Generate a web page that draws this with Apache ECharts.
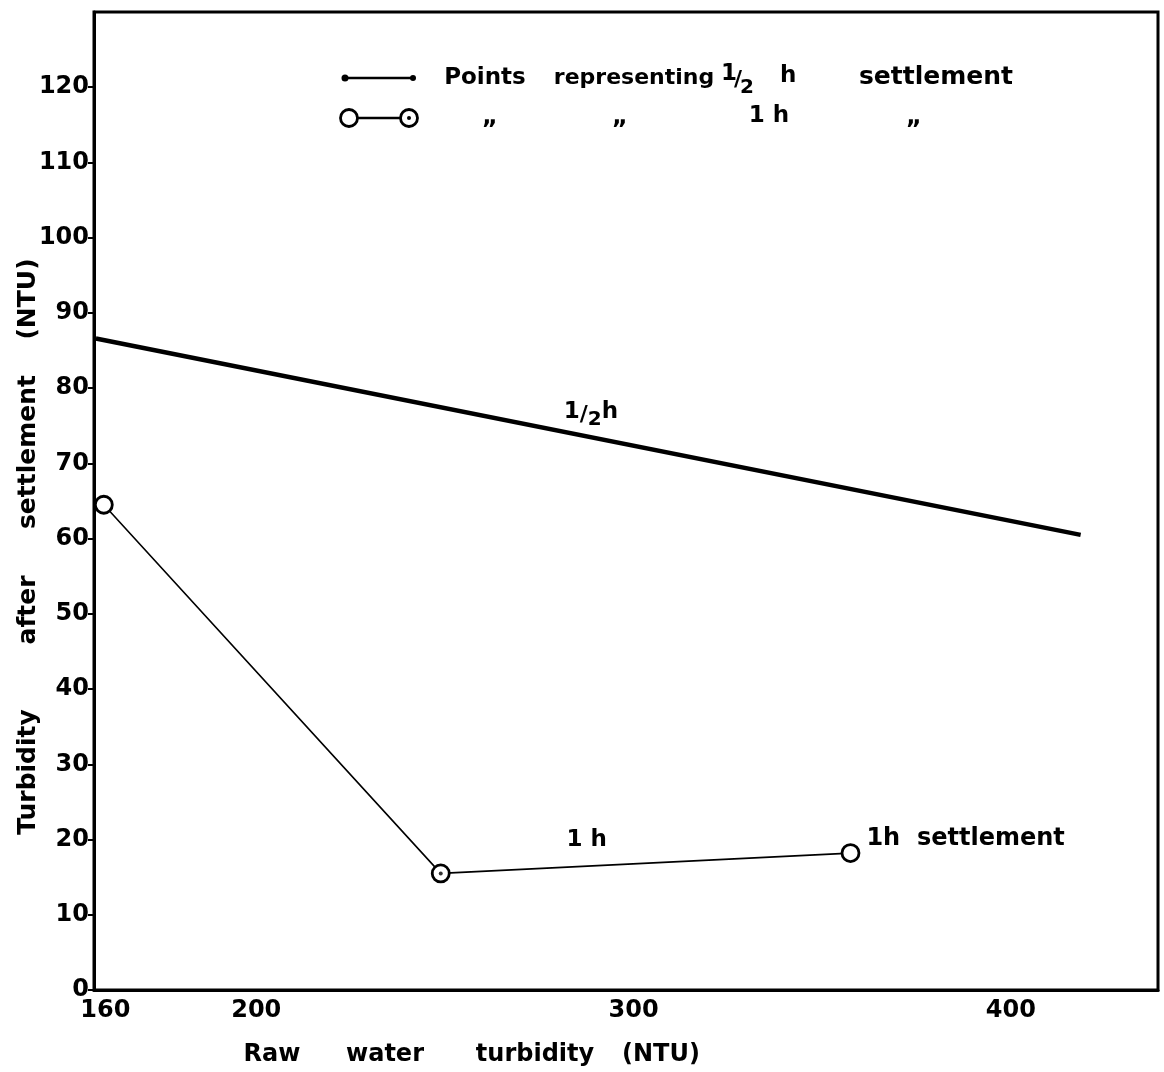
<!DOCTYPE html>
<html><head><meta charset="utf-8">
<script src="https://cdn.jsdelivr.net/npm/echarts@6/dist/echarts.min.js"></script>
<style>html,body{margin:0;padding:0;background:#fff}#c{width:1164px;height:1072px}</style>
</head><body><div id="c"></div>
<script>
// ---- data ----
const halfHourX = [157.5, 418.5];
const halfHourY = [86.6, 60.5];
const oneHourX = [159.6, 248.9, 357.5];
const oneHourY = [64.5, 15.5, 18.2];
const xTickLabels = [160, 200, 300, 400];
const yTickLabels = [0, 10, 20, 30, 40, 50, 60, 70, 80, 90, 100, 110, 120];
// annotation anchors (data space)
const halfLabelAt = [288.7, 76.4];
const oneLabelAt = [287.6, 20];

const FONT = '"DejaVu Sans", sans-serif';
const halfData = halfHourX.map((x, i) => [x, halfHourY[i]]);
const oneData = oneHourX.map((x, i) => {
  const d = { value: [x, oneHourY[i]] };
  if (i === 2) {
    d.label = {
      show: true, position: 'right', distance: 6, offset: [0, -14],
      formatter: '1h  settlement', color: '#000',
      fontFamily: FONT, fontWeight: 'bold', fontSize: 24
    };
  }
  return d;
});

const chart = echarts.init(document.getElementById('c'), null, { renderer: 'canvas' });

function txt(text, x, y, size, align, extra) {
  return Object.assign({
    type: 'text', x: x, y: y, z: 100,
    style: { text: text, fill: '#000', font: 'bold ' + size + 'px ' + FONT,
      textAlign: align || 'left', textVerticalAlign: 'middle' }
  }, extra || {});
}

const graphics = [
  // legend row 1
  { type: 'line', shape: { x1: 345, y1: 78, x2: 413, y2: 78 }, style: { stroke: '#000', lineWidth: 2.5 }, z: 100 },
  { type: 'circle', shape: { cx: 345, cy: 78, r: 3.5 }, style: { fill: '#000' }, z: 100 },
  { type: 'circle', shape: { cx: 413, cy: 78, r: 3 }, style: { fill: '#000' }, z: 100 },
  txt('Points', 485, 78, 23, 'center'),
  txt('representing', 634, 78, 22, 'center'),
  txt('1', 721, 74, 23),
  txt('/', 734, 80, 22),
  txt('2', 740, 88, 20),
  txt('h', 780, 76, 23),
  txt('settlement', 936, 77, 25, 'center'),
  // legend row 2
  { type: 'line', shape: { x1: 358, y1: 118, x2: 400, y2: 118 }, style: { stroke: '#000', lineWidth: 2.5 }, z: 100 },
  { type: 'circle', shape: { cx: 349, cy: 118, r: 8.5 }, style: { fill: '#fff', stroke: '#000', lineWidth: 2.8 }, z: 100 },
  { type: 'circle', shape: { cx: 409, cy: 118, r: 8.5 }, style: { fill: '#fff', stroke: '#000', lineWidth: 2.8 }, z: 100 },
  { type: 'circle', shape: { cx: 409, cy: 118, r: 2 }, style: { fill: '#000' }, z: 101 },
  txt('\u201E', 490, 118, 24, 'center'),
  txt('\u201E', 620, 118, 24, 'center'),
  txt('1 h', 769, 116, 23, 'center'),
  txt('\u201E', 914, 118, 24, 'center'),
  // y axis title, word by word
  txt('Turbidity', 28, 772, 25, 'center', { rotation: Math.PI / 2 }),
  txt('after', 28, 610, 25, 'center', { rotation: Math.PI / 2 }),
  txt('settlement', 28, 452, 25, 'center', { rotation: Math.PI / 2 }),
  txt('(NTU)', 28, 299, 25, 'center', { rotation: Math.PI / 2 }),
  // x axis title
  txt('Raw', 272, 1055, 24, 'center'),
  txt('water', 385, 1055, 24, 'center'),
  txt('turbidity', 535, 1055, 24, 'center'),
  txt('(NTU)', 661, 1055, 24, 'center')
];

chart.setOption({
  animation: false,
  backgroundColor: '#fff',
  grid: { left: 94, right: 6, top: 12, bottom: 82, show: true, borderColor: '#000', borderWidth: 3, containLabel: false },
  xAxis: {
    type: 'value', min: 157, max: 439,
    axisLine: { lineStyle: { color: '#000', width: 3 } },
    axisTick: { show: false },
    splitLine: { show: false },
    axisLabel: { customValues: xTickLabels, color: '#000', fontFamily: FONT, fontWeight: 'bold', fontSize: 24, margin: 9 }
  },
  yAxis: {
    type: 'value', min: 0, max: 130,
    axisLine: { show: true, lineStyle: { color: '#000', width: 3 } },
    axisTick: { show: true, customValues: yTickLabels, length: 6, lineStyle: { color: '#000', width: 2 } },
    splitLine: { show: false },
    axisLabel: { customValues: yTickLabels, color: '#000', fontFamily: FONT, fontWeight: 'bold', fontSize: 24, margin: 5 }
  },
  series: [
    {
      name: '1/2 h', type: 'line', data: halfData, symbol: 'none',
      lineStyle: { color: '#000', width: 4.5 }, z: 3,
      markPoint: {
        symbol: 'circle', symbolSize: 1, itemStyle: { color: 'rgba(0,0,0,0)' },
        data: [{
          coord: halfLabelAt,
          label: {
            show: true, position: 'inside',
            formatter: '{a|1}{b|/}{c|2}{d|h}',
            rich: {
              a: { fontFamily: FONT, fontWeight: 'bold', fontSize: 23, color: '#000', verticalAlign: 'top', lineHeight: 30 },
              b: { fontFamily: FONT, fontWeight: 'bold', fontSize: 22, color: '#000', lineHeight: 30 },
              c: { fontFamily: FONT, fontWeight: 'bold', fontSize: 20, color: '#000', verticalAlign: 'bottom', lineHeight: 30 },
              d: { fontFamily: FONT, fontWeight: 'bold', fontSize: 23, color: '#000', verticalAlign: 'top', lineHeight: 30 }
            }
          }
        }]
      }
    },
    {
      name: '1 h', type: 'line', data: oneData, symbol: 'circle', symbolSize: 17,
      lineStyle: { color: '#000', width: 1.6 },
      itemStyle: { color: '#fff', borderColor: '#000', borderWidth: 2.8 },
      z: 4,
      markPoint: {
        symbol: 'circle', symbolSize: 1, itemStyle: { color: 'rgba(0,0,0,0)' },
        data: [{
          coord: oneLabelAt,
          label: { show: true, position: 'inside', formatter: '1 h', color: '#000', fontFamily: FONT, fontWeight: 'bold', fontSize: 23 }
        }]
      }
    },
    {
      name: '1 h centre', type: 'scatter', data: [[oneHourX[1], oneHourY[1]]],
      symbol: 'circle', symbolSize: 4, itemStyle: { color: '#000' }, z: 6, silent: true
    }
  ],
  graphic: graphics
});
</script>
</body></html>
